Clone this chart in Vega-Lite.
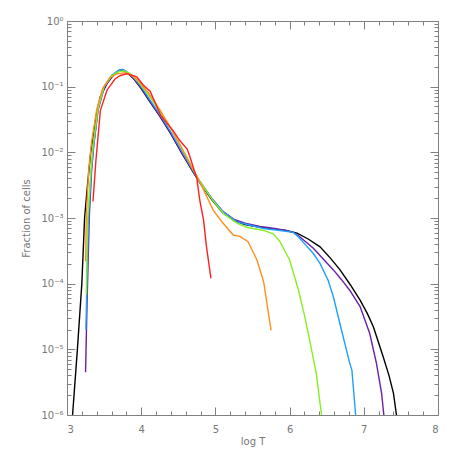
{
  "$schema": "https://vega.github.io/schema/vega-lite/v6.json",
  "autosize": "none",
  "padding": {"left": 67, "top": 21, "right": 20, "bottom": 43},
  "width": 371,
  "height": 394,
  "background": "white",
  "config": {
    "view": {"stroke": null},
    "axis": {
      "grid": false,
      "ticks": true,
      "domainColor": "#808080",
      "tickColor": "#808080",
      "tickOpacity": 1,
      "tickWidth": 1,
      "labelColor": "#777777",
      "titleColor": "#777777",
      "labelFont": "DejaVu Sans",
      "titleFont": "DejaVu Sans",
      "labelFontSize": 10,
      "titleFontSize": 10,
      "titleFontWeight": "normal"
    }
  },
  "data": {
    "values": [
      {"s": "a", "x": 3.075, "y": 1e-6}, {"s": "a", "x": 3.14, "y": 1e-5}, {"s": "a", "x": 3.2, "y": 1e-4}, {"s": "a", "x": 3.237, "y": 0.001}, {"s": "a", "x": 3.28, "y": 0.00355}, {"s": "a", "x": 3.32, "y": 0.01}, {"s": "a", "x": 3.4, "y": 0.0398}, {"s": "a", "x": 3.45, "y": 0.0708}, {"s": "a", "x": 3.54, "y": 0.112}, {"s": "a", "x": 3.6, "y": 0.138}, {"s": "a", "x": 3.65, "y": 0.158}, {"s": "a", "x": 3.7, "y": 0.174}, {"s": "a", "x": 3.75, "y": 0.178}, {"s": "a", "x": 3.8, "y": 0.166}, {"s": "a", "x": 3.9, "y": 0.132}, {"s": "a", "x": 4.0, "y": 0.0933}, {"s": "a", "x": 4.1, "y": 0.0631}, {"s": "a", "x": 4.25, "y": 0.0355}, {"s": "a", "x": 4.4, "y": 0.0191}, {"s": "a", "x": 4.55, "y": 0.00955}, {"s": "a", "x": 4.7, "y": 0.00501}, {"s": "a", "x": 4.8, "y": 0.00331}, {"s": "a", "x": 4.95, "y": 0.00191}, {"s": "a", "x": 5.1, "y": 0.0012}, {"s": "a", "x": 5.25, "y": 0.000912}, {"s": "a", "x": 5.4, "y": 0.000794}, {"s": "a", "x": 5.6, "y": 0.000724}, {"s": "a", "x": 5.8, "y": 0.000676}, {"s": "a", "x": 5.95, "y": 0.000646}, {"s": "a", "x": 6.1, "y": 0.000589}, {"s": "a", "x": 6.25, "y": 0.000479}, {"s": "a", "x": 6.41, "y": 0.000363}, {"s": "a", "x": 6.55, "y": 0.000245}, {"s": "a", "x": 6.68, "y": 0.000162}, {"s": "a", "x": 6.82, "y": 9.55e-5}, {"s": "a", "x": 6.95, "y": 5.62e-5}, {"s": "a", "x": 7.05, "y": 3.47e-5}, {"s": "a", "x": 7.13, "y": 2.19e-5}, {"s": "a", "x": 7.26, "y": 7.76e-6}, {"s": "a", "x": 7.34, "y": 3.98e-6}, {"s": "a", "x": 7.4, "y": 2.14e-6}, {"s": "a", "x": 7.44, "y": 1e-6},

      {"s": "b", "x": 3.25, "y": 4.47e-6}, {"s": "b", "x": 3.27, "y": 5.01e-5}, {"s": "b", "x": 3.3, "y": 0.001}, {"s": "b", "x": 3.33, "y": 0.00501}, {"s": "b", "x": 3.36, "y": 0.0126}, {"s": "b", "x": 3.42, "y": 0.0447}, {"s": "b", "x": 3.5, "y": 0.0955}, {"s": "b", "x": 3.6, "y": 0.141}, {"s": "b", "x": 3.65, "y": 0.162}, {"s": "b", "x": 3.7, "y": 0.178}, {"s": "b", "x": 3.75, "y": 0.182}, {"s": "b", "x": 3.8, "y": 0.17}, {"s": "b", "x": 3.9, "y": 0.132}, {"s": "b", "x": 4.0, "y": 0.0955}, {"s": "b", "x": 4.1, "y": 0.0646}, {"s": "b", "x": 4.25, "y": 0.0363}, {"s": "b", "x": 4.4, "y": 0.0195}, {"s": "b", "x": 4.55, "y": 0.00977}, {"s": "b", "x": 4.7, "y": 0.00513}, {"s": "b", "x": 4.8, "y": 0.00347}, {"s": "b", "x": 4.95, "y": 0.002}, {"s": "b", "x": 5.1, "y": 0.00126}, {"s": "b", "x": 5.25, "y": 0.000955}, {"s": "b", "x": 5.4, "y": 0.000832}, {"s": "b", "x": 5.6, "y": 0.000741}, {"s": "b", "x": 5.8, "y": 0.000692}, {"s": "b", "x": 5.95, "y": 0.000646}, {"s": "b", "x": 6.05, "y": 0.000603}, {"s": "b", "x": 6.14, "y": 0.000513}, {"s": "b", "x": 6.32, "y": 0.000347}, {"s": "b", "x": 6.45, "y": 0.00024}, {"s": "b", "x": 6.59, "y": 0.000162}, {"s": "b", "x": 6.7, "y": 0.000115}, {"s": "b", "x": 6.81, "y": 7.94e-5}, {"s": "b", "x": 6.95, "y": 4.47e-5}, {"s": "b", "x": 7.08, "y": 1.74e-5}, {"s": "b", "x": 7.17, "y": 6.17e-6}, {"s": "b", "x": 7.24, "y": 2.14e-6}, {"s": "b", "x": 7.27, "y": 1e-6},

      {"s": "c", "x": 3.255, "y": 2e-5}, {"s": "c", "x": 3.27, "y": 0.000126}, {"s": "c", "x": 3.29, "y": 0.001}, {"s": "c", "x": 3.33, "y": 0.00562}, {"s": "c", "x": 3.36, "y": 0.0132}, {"s": "c", "x": 3.42, "y": 0.0468}, {"s": "c", "x": 3.5, "y": 0.1}, {"s": "c", "x": 3.6, "y": 0.148}, {"s": "c", "x": 3.7, "y": 0.178}, {"s": "c", "x": 3.75, "y": 0.182}, {"s": "c", "x": 3.8, "y": 0.17}, {"s": "c", "x": 3.9, "y": 0.138}, {"s": "c", "x": 4.0, "y": 0.1}, {"s": "c", "x": 4.1, "y": 0.0676}, {"s": "c", "x": 4.25, "y": 0.038}, {"s": "c", "x": 4.4, "y": 0.0204}, {"s": "c", "x": 4.55, "y": 0.0102}, {"s": "c", "x": 4.7, "y": 0.00525}, {"s": "c", "x": 4.77, "y": 0.00372}, {"s": "c", "x": 4.97, "y": 0.00186}, {"s": "c", "x": 5.11, "y": 0.00123}, {"s": "c", "x": 5.29, "y": 0.000871}, {"s": "c", "x": 5.47, "y": 0.000776}, {"s": "c", "x": 5.65, "y": 0.000692}, {"s": "c", "x": 5.87, "y": 0.000646}, {"s": "c", "x": 6.05, "y": 0.000603}, {"s": "c", "x": 6.12, "y": 0.000513}, {"s": "c", "x": 6.2, "y": 0.000407}, {"s": "c", "x": 6.32, "y": 0.000288}, {"s": "c", "x": 6.41, "y": 0.000204}, {"s": "c", "x": 6.52, "y": 0.000112}, {"s": "c", "x": 6.59, "y": 6.31e-5}, {"s": "c", "x": 6.7, "y": 1.95e-5}, {"s": "c", "x": 6.81, "y": 6.17e-6}, {"s": "c", "x": 6.84, "y": 4.79e-6}, {"s": "c", "x": 6.89, "y": 1e-6},

      {"s": "d", "x": 3.26, "y": 6.76e-5}, {"s": "d", "x": 3.27, "y": 0.000316}, {"s": "d", "x": 3.28, "y": 0.001}, {"s": "d", "x": 3.32, "y": 0.00501}, {"s": "d", "x": 3.35, "y": 0.0126}, {"s": "d", "x": 3.42, "y": 0.0479}, {"s": "d", "x": 3.5, "y": 0.1}, {"s": "d", "x": 3.6, "y": 0.145}, {"s": "d", "x": 3.7, "y": 0.17}, {"s": "d", "x": 3.77, "y": 0.174}, {"s": "d", "x": 3.85, "y": 0.158}, {"s": "d", "x": 3.95, "y": 0.123}, {"s": "d", "x": 4.05, "y": 0.0891}, {"s": "d", "x": 4.15, "y": 0.0617}, {"s": "d", "x": 4.3, "y": 0.0347}, {"s": "d", "x": 4.45, "y": 0.0186}, {"s": "d", "x": 4.6, "y": 0.00912}, {"s": "d", "x": 4.7, "y": 0.0055}, {"s": "d", "x": 4.8, "y": 0.00347}, {"s": "d", "x": 4.97, "y": 0.00182}, {"s": "d", "x": 5.11, "y": 0.00117}, {"s": "d", "x": 5.29, "y": 0.000832}, {"s": "d", "x": 5.42, "y": 0.000724}, {"s": "d", "x": 5.65, "y": 0.000646}, {"s": "d", "x": 5.78, "y": 0.000575}, {"s": "d", "x": 5.87, "y": 0.000437}, {"s": "d", "x": 6.0, "y": 0.000229}, {"s": "d", "x": 6.12, "y": 7.94e-5}, {"s": "d", "x": 6.2, "y": 3.31e-5}, {"s": "d", "x": 6.27, "y": 1.38e-5}, {"s": "d", "x": 6.36, "y": 4.27e-6}, {"s": "d", "x": 6.43, "y": 1e-6},

      {"s": "e", "x": 3.25, "y": 0.000219}, {"s": "e", "x": 3.26, "y": 0.001}, {"s": "e", "x": 3.29, "y": 0.00501}, {"s": "e", "x": 3.33, "y": 0.0141}, {"s": "e", "x": 3.4, "y": 0.0447}, {"s": "e", "x": 3.48, "y": 0.0933}, {"s": "e", "x": 3.58, "y": 0.138}, {"s": "e", "x": 3.68, "y": 0.158}, {"s": "e", "x": 3.78, "y": 0.162}, {"s": "e", "x": 3.88, "y": 0.148}, {"s": "e", "x": 3.98, "y": 0.117}, {"s": "e", "x": 4.1, "y": 0.0794}, {"s": "e", "x": 4.25, "y": 0.0447}, {"s": "e", "x": 4.4, "y": 0.0234}, {"s": "e", "x": 4.55, "y": 0.0112}, {"s": "e", "x": 4.7, "y": 0.0055}, {"s": "e", "x": 4.79, "y": 0.00355}, {"s": "e", "x": 4.97, "y": 0.00132}, {"s": "e", "x": 5.09, "y": 0.000871}, {"s": "e", "x": 5.24, "y": 0.00055}, {"s": "e", "x": 5.33, "y": 0.000525}, {"s": "e", "x": 5.44, "y": 0.000437}, {"s": "e", "x": 5.56, "y": 0.000229}, {"s": "e", "x": 5.65, "y": 0.000107}, {"s": "e", "x": 5.75, "y": 1.95e-5},

      {"s": "f", "x": 3.35, "y": 0.00178}, {"s": "f", "x": 3.39, "y": 0.00759}, {"s": "f", "x": 3.45, "y": 0.0437}, {"s": "f", "x": 3.54, "y": 0.0891}, {"s": "f", "x": 3.65, "y": 0.132}, {"s": "f", "x": 3.72, "y": 0.148}, {"s": "f", "x": 3.81, "y": 0.158}, {"s": "f", "x": 3.94, "y": 0.141}, {"s": "f", "x": 4.03, "y": 0.105}, {"s": "f", "x": 4.12, "y": 0.0851}, {"s": "f", "x": 4.26, "y": 0.0372}, {"s": "f", "x": 4.35, "y": 0.0275}, {"s": "f", "x": 4.43, "y": 0.0214}, {"s": "f", "x": 4.52, "y": 0.0151}, {"s": "f", "x": 4.62, "y": 0.0112}, {"s": "f", "x": 4.66, "y": 0.00832}, {"s": "f", "x": 4.75, "y": 0.00398}, {"s": "f", "x": 4.79, "y": 0.00186}, {"s": "f", "x": 4.84, "y": 0.000933}, {"s": "f", "x": 4.88, "y": 0.000363}, {"s": "f", "x": 4.94, "y": 0.00012}
    ]
  },
  "layer": [
    {
      "mark": {"type": "line", "strokeWidth": 1.4, "clip": true},
      "encoding": {
        "x": {"field": "x", "type": "quantitative", "scale": {"domain": [3, 8], "nice": false, "zero": false},
          "axis": {"orient": "bottom", "values": [3, 4, 5, 6, 7, 8], "ticks": false, "labelPadding": 9, "title": "log T", "titlePadding": 2, "domain": true}},
        "y": {"field": "y", "type": "quantitative", "scale": {"type": "log", "domain": [1e-6, 1], "nice": false},
          "axis": {"orient": "left", "values": [1e-6, 1e-5, 1e-4, 1e-3, 1e-2, 1e-1, 1], "ticks": false, "labelPadding": 4, "title": "Fraction of cells", "titlePadding": 9, "domain": true,
            "labelExpr": "['10⁻⁶','10⁻⁵','10⁻⁴','10⁻³','10⁻²','10⁻¹','10⁰'][round(log(datum.value)/LN10)+6]"}},
        "color": {"field": "s", "type": "nominal", "legend": null,
          "scale": {"domain": ["a", "b", "c", "d", "e", "f"], "range": ["#000000", "#6a1fa8", "#1fa0ff", "#88ee22", "#ff9020", "#ff2020"]}}
      }
    },
    {
      "mark": {"type": "line", "opacity": 0},
      "encoding": {
        "x": {"field": "x", "type": "quantitative",
          "axis": {"orient": "top", "offset": -394, "values": [3, 4, 5, 6, 7, 8], "ticks": true, "tickSize": 8, "labels": false, "domain": false, "title": null}},
        "y": {"field": "y", "type": "quantitative",
          "axis": {"orient": "right", "offset": -371, "values": [1e-6, 1e-5, 1e-4, 1e-3, 1e-2, 1e-1, 1], "ticks": true, "tickSize": 8, "labels": false, "domain": false, "title": null}}
      }
    },
    {
      "mark": {"type": "line", "opacity": 0},
      "encoding": {
        "x": {"field": "x", "type": "quantitative",
          "axis": {"orient": "top", "offset": -394, "values": [3.2, 3.4, 3.6, 3.8, 4.2, 4.4, 4.6, 4.8, 5.2, 5.4, 5.6, 5.8, 6.2, 6.4, 6.6, 6.8, 7.2, 7.4, 7.6, 7.8], "ticks": true, "tickSize": 4, "labels": false, "domain": false, "title": null}},
        "y": {"field": "y", "type": "quantitative",
          "axis": {"orient": "right", "offset": -371, "values": [2e-6, 3e-6, 4e-6, 5e-6, 6e-6, 7e-6, 8e-6, 9e-6, 2e-5, 3e-5, 4e-5, 5e-5, 6e-5, 7e-5, 8e-5, 9e-5, 2e-4, 3e-4, 4e-4, 5e-4, 6e-4, 7e-4, 8e-4, 9e-4, 2e-3, 3e-3, 4e-3, 5e-3, 6e-3, 7e-3, 8e-3, 9e-3, 2e-2, 3e-2, 4e-2, 5e-2, 6e-2, 7e-2, 8e-2, 9e-2, 0.2, 0.3, 0.4, 0.5, 0.6, 0.7, 0.8, 0.9], "ticks": true, "tickSize": 4, "labels": false, "domain": false, "title": null}}
      }
    },
    {
      "mark": {"type": "line", "opacity": 0},
      "encoding": {
        "x": {"field": "x", "type": "quantitative",
          "axis": {"orient": "bottom", "offset": -394, "values": [3, 4, 5, 6, 7, 8], "ticks": true, "tickSize": 8, "labels": false, "domain": true, "title": null}},
        "y": {"field": "y", "type": "quantitative",
          "axis": {"orient": "left", "offset": -371, "values": [1e-6, 1e-5, 1e-4, 1e-3, 1e-2, 1e-1, 1], "ticks": true, "tickSize": 8, "labels": false, "domain": true, "title": null}}
      }
    },
    {
      "mark": {"type": "line", "opacity": 0},
      "encoding": {
        "x": {"field": "x", "type": "quantitative",
          "axis": {"orient": "bottom", "offset": -394, "values": [3.2, 3.4, 3.6, 3.8, 4.2, 4.4, 4.6, 4.8, 5.2, 5.4, 5.6, 5.8, 6.2, 6.4, 6.6, 6.8, 7.2, 7.4, 7.6, 7.8], "ticks": true, "tickSize": 4, "labels": false, "domain": false, "title": null}},
        "y": {"field": "y", "type": "quantitative",
          "axis": {"orient": "left", "offset": -371, "values": [2e-6, 3e-6, 4e-6, 5e-6, 6e-6, 7e-6, 8e-6, 9e-6, 2e-5, 3e-5, 4e-5, 5e-5, 6e-5, 7e-5, 8e-5, 9e-5, 2e-4, 3e-4, 4e-4, 5e-4, 6e-4, 7e-4, 8e-4, 9e-4, 2e-3, 3e-3, 4e-3, 5e-3, 6e-3, 7e-3, 8e-3, 9e-3, 2e-2, 3e-2, 4e-2, 5e-2, 6e-2, 7e-2, 8e-2, 9e-2, 0.2, 0.3, 0.4, 0.5, 0.6, 0.7, 0.8, 0.9], "ticks": true, "tickSize": 4, "labels": false, "domain": false, "title": null}}
      }
    }
  ],
  "resolve": {"axis": {"x": "independent", "y": "independent"}}
}
